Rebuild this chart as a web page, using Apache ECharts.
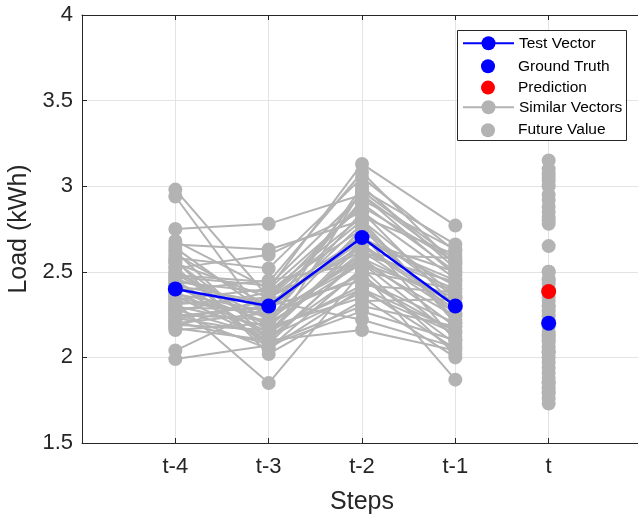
<!DOCTYPE html>
<html>
<head>
<meta charset="utf-8">
<script src="https://cdn.jsdelivr.net/npm/echarts@6/dist/echarts.min.js"></script>
<style>
  html, body { margin: 0; padding: 0; background: #fff; }
  #chart { width: 638px; height: 518px; }
</style>
</head>
<body>
<div id="chart"></div>
<script>
// Step labels for x positions 1..5
const steps = ['t-4', 't-3', 't-2', 't-1', 't'];
const yTicks = [1.5, 2, 2.5, 3, 3.5, 4];

// Query window and the two single-point results at step t
const testVector = [2.40, 2.30, 2.70, 2.30];
const groundTruth = 2.20;
const prediction = 2.385;

// Neighbouring windows: values at t-4, t-3, t-2, t-1
const similarVectors = [
  [2.98, 2.35, 2.62, 2.40], [2.94, 2.20, 2.75, 2.25], [2.75, 2.78, 2.95, 2.55],
  [2.68, 2.40, 3.13, 2.77], [2.66, 2.63, 2.80, 2.20], [2.64, 2.25, 2.55, 2.35],
  [2.62, 2.10, 2.98, 2.66], [2.60, 2.30, 2.45, 2.15], [2.58, 2.52, 3.05, 2.62],
  [2.56, 2.15, 2.68, 2.45], [2.55, 2.35, 2.90, 2.50], [2.53, 2.05, 2.40, 2.05],
  [2.52, 2.60, 2.85, 2.30], [2.50, 2.22, 2.60, 2.58], [2.49, 2.18, 2.35, 2.00],
  [2.47, 2.42, 2.95, 2.48], [2.46, 2.28, 2.72, 2.10], [2.45, 2.12, 2.50, 2.40],
  [2.44, 2.38, 2.82, 2.60], [2.43, 2.08, 2.30, 2.18], [2.42, 2.32, 2.65, 2.28],
  [2.41, 2.20, 3.00, 2.52], [2.39, 2.45, 2.55, 2.12], [2.38, 2.15, 2.42, 2.38],
  [2.37, 2.27, 2.78, 2.22], [2.36, 2.10, 2.58, 2.32], [2.34, 2.40, 2.88, 2.56],
  [2.33, 2.25, 2.48, 2.08], [2.32, 1.85, 2.50, 1.87], [2.31, 2.35, 2.70, 2.42],
  [2.30, 2.18, 2.62, 2.26], [2.29, 2.28, 2.92, 2.63], [2.28, 2.12, 2.38, 2.14],
  [2.27, 2.38, 2.75, 2.35], [2.26, 2.05, 2.52, 2.02], [2.25, 2.22, 2.85, 2.46],
  [2.24, 2.30, 2.45, 2.20], [2.23, 2.14, 2.66, 2.30], [2.22, 2.33, 2.22, 2.06],
  [2.21, 2.08, 2.60, 2.44], [2.20, 2.26, 2.97, 2.57], [2.19, 2.16, 2.40, 2.16],
  [2.18, 2.35, 2.80, 2.36], [2.17, 2.10, 2.16, 2.04], [2.16, 2.20, 2.55, 2.24],
  [2.04, 2.30, 2.68, 2.50], [1.99, 2.07, 2.27, 2.10], [2.57, 2.02, 2.33, 2.34],
  [2.48, 2.44, 3.08, 2.54], [2.35, 2.24, 2.58, 2.18]
];

// Value that followed each neighbouring window (step t)
const futureValues = [
  2.03, 2.88, 2.50, 3.15, 2.10, 2.30, 3.07, 1.85, 2.95, 2.45,
  2.78, 1.80, 2.65, 2.40, 1.76, 3.00, 2.20, 2.27, 2.85, 1.94,
  2.35, 3.10, 2.12, 2.15, 2.43, 2.06, 2.92, 1.88, 1.73, 2.33,
  2.09, 3.03, 1.97, 2.24, 1.82, 2.82, 2.18, 2.00, 1.91, 2.46,
  2.80, 2.21, 2.38, 1.79, 2.03, 2.50, 1.85, 2.30, 3.05, 2.13
];

// Legend entries, top to bottom
const legendNames = ['Test Vector', 'Ground Truth', 'Prediction', 'Similar Vectors', 'Future Value'];

const GRAY = '#b3b3b3';
const BLUE = '#0000ff';
const RED = '#ff0000';
const AXIS = '#262626';
const FONT = 'Liberation Sans';

const toPoints = vals => vals.map((v, i) => [i + 1, v]);

const series = [];
similarVectors.forEach(vec => {
  series.push({
    name: 'Similar Vectors',
    type: 'line',
    data: toPoints(vec),
    symbol: 'circle',
    symbolSize: 14,
    color: GRAY,
    itemStyle: { color: GRAY },
    lineStyle: { color: GRAY, width: 2 },
    z: 2,
    silent: true
  });
});
series.push({
  name: 'Future Value',
  type: 'scatter',
  data: futureValues.map(v => [5, v]),
  symbol: 'circle',
  symbolSize: 14,
  itemStyle: { color: GRAY, opacity: 1 },
  z: 3
});
series.push({
  name: 'Test Vector',
  type: 'line',
  data: toPoints(testVector),
  symbol: 'circle',
  symbolSize: 15,
  color: BLUE,
  itemStyle: { color: BLUE },
  lineStyle: { color: BLUE, width: 2.5 },
  z: 5
});
series.push({
  name: 'Ground Truth',
  type: 'scatter',
  data: [[5, groundTruth]],
  symbol: 'circle',
  symbolSize: 15,
  itemStyle: { color: BLUE, opacity: 1 },
  z: 6
});
series.push({
  name: 'Prediction',
  type: 'scatter',
  data: [[5, prediction]],
  symbol: 'circle',
  symbolSize: 15,
  itemStyle: { color: RED, opacity: 1 },
  z: 6
});

// One legend per row: line entries span the full icon width with the marker
// in the middle; marker-only entries sit centred in that same slot.
const rowCenters = [44, 65.3, 86.6, 108, 129.2];
const isLineEntry = name => name === 'Test Vector' || name === 'Similar Vectors';
const legends = legendNames.map((name, i) => {
  const line = isLineEntry(name);
  const h = line ? 17.5 : 14;
  return {
    data: [name],
    orient: 'vertical',
    left: line ? 462 : 481,
    top: rowCenters[i] - h / 2,
    itemWidth: line ? 51 : 14,
    itemHeight: h,
    padding: 0,
    selectedMode: false,
    z: 12,
    textStyle: {
      fontFamily: FONT, fontSize: 15.5, color: '#000',
      padding: [0, 0, 0, line ? 0 : 18]
    }
  };
});

const chart = echarts.init(document.getElementById('chart'), null, { renderer: 'canvas' });
chart.setOption({
  animation: false,
  backgroundColor: '#ffffff',
  grid: { left: 82, top: 15, width: 560, height: 428, containLabel: false, outerBoundsMode: 'none' },
  legend: legends,
  graphic: [{
    type: 'rect',
    z: 10,
    shape: { x: 457.5, y: 30.5, width: 169, height: 110 },
    style: { fill: '#ffffff', stroke: AXIS, lineWidth: 1 }
  }],
  xAxis: [{
    type: 'value',
    min: 0,
    max: 6,
    interval: 1,
    position: 'bottom',
    name: 'Steps',
    nameLocation: 'middle',
    nameGap: 47,
    nameTextStyle: { fontFamily: FONT, fontSize: 25, color: AXIS },
    axisLine: { show: true, onZero: false, lineStyle: { color: AXIS, width: 1 } },
    axisTick: { show: true, inside: true, length: 5, lineStyle: { color: AXIS } },
    axisLabel: {
      fontFamily: FONT, fontSize: 22, color: AXIS, margin: 13,
      formatter: v => (v >= 1 && v <= 5 ? steps[v - 1] : '')
    },
    splitLine: { show: true, lineStyle: { color: '#e3e3e3', width: 1 } }
  }, {
    type: 'value',
    min: 0,
    max: 6,
    interval: 1,
    position: 'top',
    axisLine: { show: true, onZero: false, lineStyle: { color: AXIS, width: 1 } },
    axisTick: { show: true, inside: true, length: 5, lineStyle: { color: AXIS } },
    axisLabel: { show: false },
    splitLine: { show: false }
  }],
  yAxis: {
    type: 'value',
    min: yTicks[0],
    max: yTicks[yTicks.length - 1],
    interval: 0.5,
    name: 'Load (kWh)',
    nameLocation: 'middle',
    nameGap: 48,
    nameTextStyle: { fontFamily: FONT, fontSize: 25, color: AXIS },
    axisLine: { show: true, onZero: false, lineStyle: { color: AXIS, width: 1 } },
    axisTick: { show: true, inside: true, length: 5, lineStyle: { color: AXIS } },
    axisLabel: { fontFamily: FONT, fontSize: 22, color: AXIS, margin: 9 },
    splitLine: { show: true, lineStyle: { color: '#e3e3e3', width: 1 } }
  },
  series: series
});
</script>
</body>
</html>
